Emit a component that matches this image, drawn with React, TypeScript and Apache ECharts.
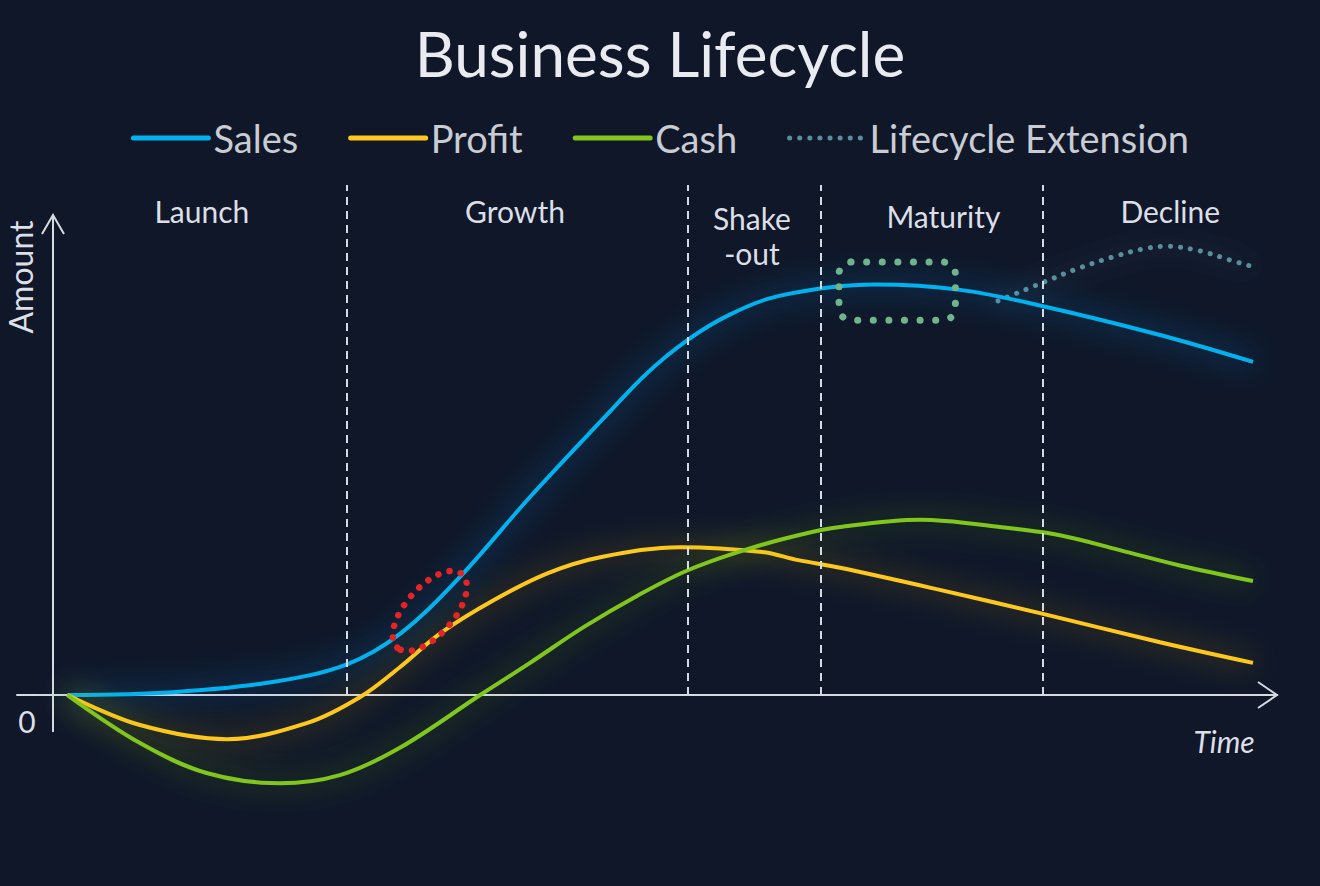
import React, { useEffect, useRef } from 'react';
import * as echarts from 'echarts';

// curve samples: [time, amount]
const salesData = [
  [1.2, 0], [10, 0.6], [18.3, 2.7], [24.5, 6.4], [29, 12.9], [33.8, 24.3],
  [39.75, 41.25], [45.75, 57.3], [49.5, 67.05], [52.9, 74.0], [56.4, 79.25], [60.6, 83.2],
  [68.5, 85.5], [75.6, 84.4], [82.5, 81], [92.25, 75], [100, 69.4],
];
const profitData = [
  [1.2, 0], [7.25, -6.25], [14.5, -9.2], [21.2, -5.8], [25.6, -0.4], [28.9, 5.8],
  [32.3, 12.9], [36.75, 19.8], [41.25, 25.4], [45.7, 28.75], [52.3, 30.8], [59.1, 29.8],
  [62.1, 28.1], [65.6, 26.5], [73.9, 21.9], [82.5, 16.9], [92.25, 11], [100, 6.7],
];
const cashData = [
  [1.2, 0], [7.25, -10], [12.8, -16.25], [18.9, -18.4], [23.9, -16.7], [28.9, -11],
  [35.6, 0], [39.75, 6.7], [44.25, 14.2], [48.7, 20.7], [52.9, 26], [57.6, 30.2],
  [62.1, 33.3], [65.6, 35], [72.25, 36.5], [78.9, 35], [83.9, 33.3], [88.9, 30.2],
  [93.9, 27], [100, 23.75],
];
const extensionData = [
  [78.75, 82.1], [82.8, 86.25], [85.3, 88.75], [88.3, 91.25], [90.8, 92.9],
  [92.8, 93.5], [95.6, 92.5], [98.1, 90.6], [99.75, 89.4],
];

const phaseNames = ['Launch', 'Growth', 'Shake\n-out', 'Maturity', 'Decline'];
const phaseCenters = [12.4, 38.5, 58.25, 74.2, 93.1];
const phaseLabelY = [100.8, 100.8, 95.8, 99.8, 100.8];
const phaseDividers = [24.5, 52.9, 64, 82.5];

const FONT = 'Lato, "Open Sans", sans-serif';
const BG = '#0f1729';
const AXIS = '#d6dae3';
const LABEL = '#dcdfe6';

const X_MIN = -3;
const X_MAX = 102;
const Y_MIN = -7.7;
const Y_MAX = 106.25;
const Y_ARROW = 100;

const glowLine = (name: string, data: number[][], color: string, glow: string) => ({
  name,
  type: 'line',
  data,
  smooth: 0.35,
  symbol: 'none',
  clip: false,
  lineStyle: { color, width: 4, shadowColor: glow, shadowBlur: 30 },
  itemStyle: { color },
  z: 3,
});

export default function App() {
  const ref = useRef<HTMLDivElement>(null);

  useEffect(() => {
    document.body.style.margin = '0';
    if (!ref.current) return;
    const chart = echarts.init(ref.current, null, { renderer: 'svg' });

    chart.setOption({
      animation: false,
      backgroundColor: BG,
      title: {
        text: 'Business Lifecycle',
        left: 'center',
        top: 17,
        textStyle: { color: '#e9ebf0', fontFamily: FONT, fontSize: 62, fontWeight: 'normal' },
      },
      legend: {
        top: 114,
        left: 'center',
        itemWidth: 75,
        itemHeight: 5,
        itemGap: 50,
        data: ['Sales', 'Profit', 'Cash', 'Lifecycle Extension'],
        itemStyle: { opacity: 0 },
        lineStyle: { width: 5, cap: 'round' },
        textStyle: { color: '#c9ccd3', fontFamily: FONT, fontSize: 38 },
      },
      grid: { left: 17, right: 43, top: 185, bottom: 154 },
      xAxis: {
        type: 'value',
        min: X_MIN,
        max: X_MAX,
        axisLine: { onZero: true, lineStyle: { color: AXIS, width: 2 } },
        axisTick: { show: false },
        axisLabel: { show: false },
        splitLine: { show: false },
      },
      yAxis: {
        type: 'value',
        min: Y_MIN,
        max: Y_MAX,
        axisLine: { show: false },
        axisTick: { show: false },
        axisLabel: { show: false },
        splitLine: { show: false },
      },
      series: [
        {
          ...glowLine('Sales', salesData, '#00b2f0', 'rgba(0,150,235,0.85)'),
          markLine: {
            silent: true,
            symbol: 'none',
            label: { show: false },
            lineStyle: { color: AXIS, width: 2, type: [8, 6], shadowBlur: 0 },
            data: phaseDividers.map((x) => [{ coord: [x, 0] }, { coord: [x, Y_MAX] }]),
          },
        },
        glowLine('Profit', profitData, '#ffc81e', 'rgba(215,175,20,0.75)'),
        glowLine('Cash', cashData, '#80c61c', 'rgba(110,180,30,0.75)'),
        {
          name: 'Lifecycle Extension',
          type: 'line',
          data: extensionData,
          smooth: 0.35,
          symbol: 'none',
          clip: false,
          lineStyle: {
            color: '#5a8e9d',
            width: 5,
            type: [0.1, 10],
            cap: 'round',
            shadowColor: 'rgba(130,165,175,0.55)',
            shadowBlur: 26,
          },
          itemStyle: { color: '#5a8e9d' },
          z: 2,
        },
        {
          name: 'phases',
          type: 'scatter',
          symbolSize: 0,
          silent: true,
          clip: false,
          itemStyle: { opacity: 1 },
          data: phaseNames.map((n, i) => ({ name: n, value: [phaseCenters[i], phaseLabelY[i]] })),
          label: {
            show: true,
            position: 'inside',
            formatter: (p: any) => p.name,
            color: LABEL,
            fontFamily: FONT,
            fontSize: 30,
            lineHeight: 35,
          },
        },
      ],
    });

    const px = (p: number[]) => chart.convertToPixel({ gridIndex: 0 }, p) as number[];
    const o = px([0, 0]);
    const xEnd = px([X_MAX, 0]);
    const yEnd = px([0, Y_ARROW]);
    const yStart = px([0, Y_MIN]);
    const redC = px([31.4, 17.5]);
    const boxA = px([65.5, 90.2]);
    const boxB = px([75.2, 78.1]);

    chart.setOption({
      graphic: [
        {
          type: 'line',
          shape: { x1: yStart[0], y1: yStart[1], x2: yEnd[0], y2: yEnd[1] },
          style: { stroke: AXIS, lineWidth: 2 },
        },
        {
          type: 'polyline',
          shape: { points: [[xEnd[0] - 19, xEnd[1] - 13], xEnd, [xEnd[0] - 19, xEnd[1] + 13]] },
          style: { stroke: AXIS, lineWidth: 2, fill: 'none' },
        },
        {
          type: 'polyline',
          shape: { points: [[yEnd[0] - 11, yEnd[1] + 19], yEnd, [yEnd[0] + 11, yEnd[1] + 19]] },
          style: { stroke: AXIS, lineWidth: 2, fill: 'none' },
        },
        {
          type: 'text',
          x: o[0] - 26,
          y: o[1] + 26,
          style: { text: '0', fill: LABEL, font: `30px ${FONT}`, align: 'center', verticalAlign: 'middle' },
        },
        {
          type: 'text',
          x: o[0] - 33,
          y: yEnd[1] + 62,
          rotation: Math.PI / 2,
          style: { text: 'Amount', fill: LABEL, font: `32px ${FONT}`, align: 'center', verticalAlign: 'middle' },
        },
        {
          type: 'text',
          x: xEnd[0] - 53,
          y: o[1] + 46,
          style: { text: 'Time', fill: LABEL, font: `italic 30px ${FONT}`, align: 'center', verticalAlign: 'middle' },
        },
        {
          type: 'ellipse',
          x: redC[0],
          y: redC[1],
          rotation: 0.85,
          shape: { cx: 0, cy: 0, rx: 49, ry: 24 },
          style: { fill: 'none', stroke: '#e52424', lineWidth: 6.5, lineDash: [0.1, 11.5], lineCap: 'round' },
          z: 10,
        },
        {
          type: 'rect',
          shape: { x: boxA[0], y: boxA[1], width: boxB[0] - boxA[0], height: boxB[1] - boxA[1], r: 12 },
          style: { fill: 'none', stroke: '#6fb48c', lineWidth: 7, lineDash: [0.1, 15.5], lineCap: 'round' },
          z: 10,
        },
      ],
    });

    return () => chart.dispose();
  }, []);

  return (
    <div
      ref={ref}
      style={{ position: 'fixed', left: 0, top: 0, width: 1320, height: 886, background: BG }}
    />
  );
}
